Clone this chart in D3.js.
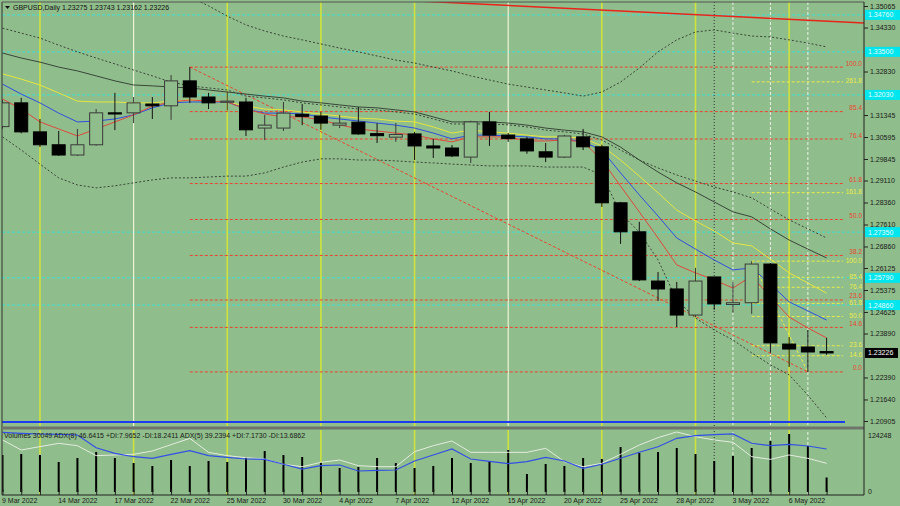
<!DOCTYPE html>
<html><head><meta charset="utf-8">
<script src="https://cdn.jsdelivr.net/npm/d3@7"></script>
<style>body{margin:0;background:#8fbd8b;}svg{display:block;}text{font-family:"Liberation Sans",Arial,sans-serif;}</style>
</head><body>
<svg id="c" width="900" height="506"></svg>
<script>
const symbol = "GBPUSD,Daily";
const dates = ["9 Mar 2022","10 Mar 2022","11 Mar 2022","14 Mar 2022","15 Mar 2022","16 Mar 2022","17 Mar 2022","18 Mar 2022","21 Mar 2022","22 Mar 2022","23 Mar 2022","24 Mar 2022","25 Mar 2022","28 Mar 2022","29 Mar 2022","30 Mar 2022","31 Mar 2022","1 Apr 2022","4 Apr 2022","5 Apr 2022","6 Apr 2022","7 Apr 2022","8 Apr 2022","11 Apr 2022","12 Apr 2022","13 Apr 2022","14 Apr 2022","15 Apr 2022","18 Apr 2022","19 Apr 2022","20 Apr 2022","21 Apr 2022","22 Apr 2022","25 Apr 2022","26 Apr 2022","27 Apr 2022","28 Apr 2022","29 Apr 2022","2 May 2022","3 May 2022","4 May 2022","5 May 2022","6 May 2022","9 May 2022","10 May 2022"];
const open  = [1.3095,1.3176,1.3077,1.3033,1.2998,1.3033,1.3142,1.3142,1.3172,1.3166,1.3251,1.3196,1.3178,1.3179,1.3090,1.3090,1.3137,1.3131,1.3100,1.3110,1.3071,1.3059,1.3070,1.3029,1.3022,1.2991,1.3111,1.3066,1.3053,1.3009,1.2991,1.3060,1.3026,1.2835,1.2736,1.2568,1.2541,1.2452,1.2582,1.2488,1.2494,1.2626,1.2353,1.2343,1.23275];
const high  = [1.3186,1.3193,1.3121,1.3080,1.3087,1.3155,1.3210,1.3196,1.3196,1.3271,1.3298,1.3210,1.3215,1.3193,1.3135,1.3179,1.3172,1.3145,1.3135,1.3162,1.3107,1.3107,1.3077,1.3053,1.3032,1.3115,1.3145,1.3073,1.3060,1.3039,1.3067,1.3087,1.3033,1.2838,1.2770,1.2599,1.2565,1.2613,1.2582,1.2565,1.2636,1.2630,1.2377,1.2401,1.23743];
const low   = [1.3088,1.3072,1.3025,1.2995,1.2995,1.3030,1.3083,1.3107,1.3121,1.3118,1.3176,1.3155,1.3150,1.3063,1.3049,1.3080,1.3100,1.3084,1.3090,1.3067,1.3039,1.3043,1.2981,1.2988,1.2991,1.2971,1.3029,1.3043,1.3002,1.2974,1.2988,1.3015,1.2821,1.2695,1.2568,1.2500,1.2411,1.2445,1.2470,1.2460,1.2456,1.2323,1.2275,1.2258,1.23162];
const close = [1.3176,1.3077,1.3033,1.2998,1.3033,1.3142,1.3138,1.3176,1.3166,1.3251,1.3196,1.3176,1.3182,1.3084,1.3100,1.3141,1.3130,1.3107,1.3107,1.3070,1.3064,1.3068,1.3029,1.3022,1.2995,1.3111,1.3066,1.3054,1.3012,1.2991,1.3063,1.3026,1.2835,1.2736,1.2572,1.2541,1.2452,1.2568,1.2490,1.2494,1.2626,1.2357,1.2336,1.2326,1.23226];
const volume = [76600,78700,76600,62100,70400,82800,70400,60000,53800,66300,53800,64200,62100,72500,84900,76600,72500,62100,49700,51800,70400,60000,49700,53800,70400,60000,64200,87000,37300,58000,53800,70400,68300,93200,80800,82800,91100,78700,64200,74500,91100,105600,120100,95300,30049];
const maFast = [1.3189,1.3155,1.3111,1.3087,1.3063,1.3087,1.3111,1.3135,1.3165,1.3179,1.3186,1.3182,1.3179,1.3155,1.3138,1.3128,1.3128,1.3118,1.3101,1.3087,1.3080,1.3073,1.3066,1.3053,1.3043,1.3060,1.3060,1.3060,1.3046,1.3046,1.3049,1.3043,1.2981,1.2892,1.2804,1.2715,1.2623,1.2596,1.2572,1.2544,1.2585,1.2514,1.2445,1.2408,1.2374];
const maMid = [1.3240,1.3206,1.3176,1.3141,1.3111,1.3114,1.3121,1.3135,1.3159,1.3176,1.3179,1.3179,1.3179,1.3155,1.3141,1.3141,1.3138,1.3128,1.3121,1.3114,1.3107,1.3100,1.3090,1.3073,1.3053,1.3066,1.3066,1.3063,1.3060,1.3053,1.3053,1.3043,1.3015,1.2937,1.2862,1.2790,1.2715,1.2677,1.2640,1.2606,1.2613,1.2558,1.2497,1.2466,1.2435];
const maSlow = [1.3275,1.3257,1.3237,1.3210,1.3182,1.3179,1.3179,1.3176,1.3176,1.3182,1.3186,1.3182,1.3179,1.3165,1.3155,1.3152,1.3145,1.3138,1.3131,1.3124,1.3121,1.3114,1.3111,1.3094,1.3073,1.3083,1.3077,1.3073,1.3066,1.3060,1.3060,1.3056,1.3029,1.2981,1.2926,1.2869,1.2810,1.2773,1.2739,1.2698,1.2688,1.2643,1.2596,1.2561,1.2527];
const maLong = [1.3346,1.3329,1.3315,1.3298,1.3285,1.3268,1.3251,1.3237,1.3234,1.3230,1.3227,1.3220,1.3213,1.3206,1.3199,1.3193,1.3182,1.3176,1.3169,1.3162,1.3159,1.3152,1.3145,1.3128,1.3111,1.3111,1.3111,1.3107,1.3100,1.3090,1.3083,1.3077,1.3060,1.3025,1.2981,1.2940,1.2903,1.2872,1.2838,1.2804,1.2787,1.2746,1.2708,1.2677,1.2647];
const maDotted = [1.3431,1.3414,1.3397,1.3373,1.3350,1.3329,1.3309,1.3288,1.3268,1.3247,1.3234,1.3227,1.3220,1.3199,1.3193,1.3186,1.3176,1.3169,1.3162,1.3155,1.3152,1.3145,1.3138,1.3121,1.3104,1.3104,1.3104,1.3101,1.3094,1.3083,1.3077,1.3070,1.3049,1.3015,1.2981,1.2954,1.2930,1.2909,1.2889,1.2872,1.2852,1.2814,1.2777,1.2746,1.2715];
const bbUpper = [null,null,null,null,null,null,null,null,null,null,1.3537,1.3507,1.3472,1.3442,1.3421,1.3404,1.3391,1.3377,1.3363,1.3350,1.3336,1.3322,1.3312,1.3298,1.3285,1.3268,1.3254,1.3240,1.3230,1.3220,1.3210,1.3199,1.3213,1.3247,1.3295,1.3350,1.3391,1.3418,1.3425,1.3414,1.3404,1.3401,1.3391,1.3380,1.3367];
const bbLower = [1.3060,1.3015,1.2967,1.2920,1.2896,1.2886,1.2893,1.2903,1.2913,1.2920,1.2920,1.2923,1.2926,1.2926,1.2937,1.2957,1.2974,1.2985,1.2985,1.2981,1.2981,1.2978,1.2974,1.2971,1.2967,1.2964,1.2961,1.2961,1.2961,1.2957,1.2957,1.2957,1.2930,1.2800,1.2735,1.2640,1.2503,1.2442,1.2401,1.2367,1.2323,1.2282,1.2248,1.2179,1.2101];
const adx8 = [99.5,97.8,96.7,96.2,95,73.8,64.5,58.8,56.2,62.8,68.8,60.5,57.8,55,54.5,46.2,38.3,43.8,45,35,36.2,36.7,51.7,61.7,71.7,55,51.2,47.2,50.5,57.8,51.7,39.5,46.2,56.2,66.2,75.5,89.5,93.8,95.5,96.7,81.2,77.2,79.5,76.7,71.7];
const adx5 = [86.7,70,75.6,81.1,77.2,60.6,61.7,62.8,68.3,78.9,89.4,66.1,60.6,57.2,55,46.1,42.2,49.4,53.3,43.9,42.2,42.2,67.2,77.2,85,66.1,66.1,66.1,66.1,72.8,50.6,42.2,47.8,62.8,78.3,90.6,100,92.2,86.7,82.8,58.9,54.4,61.7,56.1,47.8];
const priceTicks = [1.35065,1.34330,1.32830,1.31345,1.30595,1.29845,1.29110,1.28360,1.27610,1.26860,1.26125,1.25375,1.24625,1.23890,1.22390,1.21640,1.20905];
const fibRedLevels = [0,14.6,23.6,38.2,50,61.8,76.4,85.4,100];
const fibYellowLevels = [14.6,23.6,50,61.8,76.4,85.4,100,161.8,261.8];
const fibRed = {from:10, to:43, high:1.3298, low:1.2258};
const fibYellow = {from:40, to:43, high:1.2636, low:1.2258};
const cyanLevels = [1.34760,1.33500,1.32030,1.27350,1.25790,1.24860];
const supportLine = 1.2087;
const trendRed = {i0:22, p0:1.3524, i1:44, p1:1.3455};
const fridays = [2,7,12,17,22,27,32,37,42];
const paleFridays = [7,27];
const dottedV = [38];
const whiteDashedV = [39,41,43];
const volTop = 124248;
const legendText = "Volumes 30049  ADX(8) 46.6415 +DI:7.9652 -DI:18.2411   ADX(5) 39.2394 +DI:7.1730 -DI:13.6862";

const svg = d3.select("#c");
const BG = "#8fbd8b";
const L = 2, R = 864, T = 2, MB = 426, VT = 430, VB = 495;
const x = d3.scaleLinear().domain([0,44]).range([2.5,826.6]);
const y = d3.scaleLinear().domain([1.20905,1.35065]).range([421,6]);
const yv = d3.scaleLinear().domain([0,volTop]).range([492,432]);
const ya = d3.scaleLinear().domain([0,100]).range([492,432]);

svg.append("rect").attr("width",900).attr("height",506).attr("fill",BG);
const defs = svg.append("defs");
defs.append("clipPath").attr("id","mainclip").append("rect").attr("x",L).attr("y",T).attr("width",R-L).attr("height",MB-T);
defs.append("clipPath").attr("id","volclip").append("rect").attr("x",L).attr("y",VT).attr("width",R-L).attr("height",VB-VT);
const main = svg.append("g").attr("clip-path","url(#mainclip)");
const vol = svg.append("g").attr("clip-path","url(#volclip)");

cyanLevels.forEach(p=>{
  main.append("line").attr("x1",L).attr("x2",R).attr("y1",y(p)).attr("y2",y(p))
    .attr("stroke","#3fe0d8").attr("stroke-width",1).attr("stroke-dasharray","3,2");
});
fridays.forEach(i=>{
  const pale = paleFridays.includes(i);
  main.append("line").attr("x1",x(i)).attr("x2",x(i)).attr("y1",T).attr("y2",MB)
    .attr("stroke",pale?"#eef3d6":"#cfe23e").attr("stroke-width",pale?1.2:1.6);
  vol.append("line").attr("x1",x(i)).attr("x2",x(i)).attr("y1",VT).attr("y2",VB)
    .attr("stroke","#cfe23e").attr("stroke-width",1.6);
});
dottedV.forEach(i=>{
  [main,vol].forEach(g=>g.append("line").attr("x1",x(i)).attr("x2",x(i)).attr("y1",T).attr("y2",VB)
    .attr("stroke","#333").attr("stroke-width",1).attr("stroke-dasharray","1,2"));
});
whiteDashedV.forEach(i=>{
  [main,vol].forEach(g=>g.append("line").attr("x1",x(i)).attr("x2",x(i)).attr("y1",T).attr("y2",VB)
    .attr("stroke","#eef2ea").attr("stroke-width",1).attr("stroke-dasharray","3,2"));
});

function fib(f, levels, color, dy){
  const xs = x(f.from), xe = 843;
  levels.forEach(l=>{
    const p = f.low + (f.high-f.low)*l/100;
    main.append("line").attr("x1",xs).attr("x2",xe).attr("y1",y(p)).attr("y2",y(p))
      .attr("stroke",color).attr("stroke-width",1).attr("stroke-dasharray","3,2");
    main.append("text").attr("x",862).attr("y",y(p)+dy).attr("text-anchor","end")
      .attr("font-size",6.5).attr("fill",color).text(l.toFixed(1));
  });
  main.append("line").attr("x1",x(f.from)).attr("y1",y(f.high)).attr("x2",x(f.to)).attr("y2",y(f.low))
    .attr("stroke",color).attr("stroke-width",1).attr("stroke-dasharray","3,2");
}
fib(fibRed, fibRedLevels, "#ea4630", -1.5);
fib(fibYellow, fibYellowLevels, "#ecec48", 1.5);

main.append("line").attr("x1",L).attr("x2",845).attr("y1",y(supportLine)).attr("y2",y(supportLine))
  .attr("stroke","#1d3cf0").attr("stroke-width",2);
{
  const slope = (trendRed.p1-trendRed.p0)/(trendRed.i1-trendRed.i0);
  const iEnd = x.invert(R);
  main.append("line").attr("x1",x(trendRed.i0)).attr("y1",y(trendRed.p0))
    .attr("x2",R).attr("y2",y(trendRed.p0+slope*(iEnd-trendRed.i0)))
    .attr("stroke","#e8241c").attr("stroke-width",1.5);
}

const line = d3.line().defined(d=>d!=null).x((d,i)=>x(i)).y(d=>y(d));
const dash = (arr,col)=>main.append("path").attr("d",line(arr)).attr("fill","none").attr("stroke",col).attr("stroke-width",1).attr("stroke-dasharray","2,2");
dash(bbUpper,"#3a463a");
dash(bbLower,"#3a463a");
dash(maDotted,"#3a463a");
main.append("path").attr("d",line(maLong)).attr("fill","none").attr("stroke","#3a463a").attr("stroke-width",1);
main.append("path").attr("d",line(maSlow)).attr("fill","none").attr("stroke","#e6e640").attr("stroke-width",1);
main.append("path").attr("d",line(maMid)).attr("fill","none").attr("stroke","#2f4fe0").attr("stroke-width",1);
main.append("path").attr("d",line(maFast)).attr("fill","none").attr("stroke","#e0483c").attr("stroke-width",1);

const bw = 13;
const cg = main.append("g");
dates.forEach((d,i)=>{
  const up = close[i] >= open[i];
  cg.append("line").attr("x1",x(i)).attr("x2",x(i)).attr("y1",y(high[i])).attr("y2",y(low[i]))
    .attr("stroke",up?"#3a3a3a":"#111").attr("stroke-width",1);
  const top = y(Math.max(open[i],close[i])), bot = y(Math.min(open[i],close[i]));
  cg.append("rect").attr("x",x(i)-bw/2).attr("y",top).attr("width",bw).attr("height",Math.max(1,bot-top))
    .attr("fill",up?BG:"#000").attr("stroke",up?"#3a3a3a":"#000").attr("stroke-width",1);
});

vol.selectAll(".vb").data(volume).enter().append("line")
  .attr("x1",(d,i)=>x(i)).attr("x2",(d,i)=>x(i)).attr("y1",yv(0)).attr("y2",d=>yv(d))
  .attr("stroke","#000").attr("stroke-width",2);
const aline = d3.line().x((d,i)=>x(i)).y(d=>ya(d));
vol.append("path").attr("d",aline(adx5)).attr("fill","none").attr("stroke","#e4ece0").attr("stroke-width",1);
vol.append("path").attr("d",aline(adx8)).attr("fill","none").attr("stroke","#3350e6").attr("stroke-width",1.2);
svg.append("text").attr("x",4).attr("y",438).attr("font-size",7).attr("fill","#1a1a1a").text(legendText);

svg.append("line").attr("x1",L).attr("x2",L).attr("y1",T).attr("y2",VB).attr("stroke","#333").attr("stroke-width",1);
svg.append("line").attr("x1",L).attr("x2",R).attr("y1",T).attr("y2",T).attr("stroke","#555").attr("stroke-width",1);
svg.append("rect").attr("x",L).attr("y",426.5).attr("width",R-L).attr("height",3).attr("fill","#6e766c");

const yAxis = d3.axisRight(y).tickValues(priceTicks).tickFormat(d3.format(".5f")).tickSize(4).tickPadding(2);
const ya1 = svg.append("g").attr("transform",`translate(${R},0)`).call(yAxis);
ya1.select(".domain").remove();
const xAxis = d3.axisBottom(x).tickValues(d3.range(0,45)).tickSize(0).tickFormat(i=> i%3===0?dates[i]:"");
const xa = svg.append("g").attr("transform",`translate(0,${VB})`).call(xAxis);
xa.select(".domain").remove();
xa.selectAll(".tick").append("line").attr("y1",0).attr("y2",-6).attr("stroke","#222");
xa.selectAll("text").attr("text-anchor","start").attr("dx",-1).attr("dy","0.55em").attr("y",4);
[ya1,xa].forEach(g=>{g.selectAll("text").attr("font-size",7).attr("fill","#1a1a1a").attr("font-family","Liberation Sans, Arial");
  g.selectAll(".tick line").attr("stroke","#222");});
svg.append("line").attr("x1",R).attr("x2",R).attr("y1",T).attr("y2",VB).attr("stroke","#222");
svg.append("line").attr("x1",L).attr("x2",R).attr("y1",VB).attr("y2",VB).attr("stroke","#222");
svg.append("text").attr("x",868).attr("y",438).attr("font-size",7).attr("fill","#1a1a1a").text(String(volTop));
svg.append("text").attr("x",868).attr("y",494).attr("font-size",7).attr("fill","#1a1a1a").text("0");

cyanLevels.forEach(p=>{
  svg.append("rect").attr("x",865).attr("y",y(p)-5).attr("width",35).attr("height",10).attr("fill","#00e6ee");
  svg.append("text").attr("x",868).attr("y",y(p)+2.5).attr("font-size",7).attr("fill","#e8fbfb").text(p.toFixed(5));
});
{
  const p = close[44];
  svg.append("rect").attr("x",865).attr("y",y(p)-5).attr("width",33).attr("height",10).attr("fill","#000");
  svg.append("text").attr("x",868).attr("y",y(p)+2.5).attr("font-size",7).attr("fill","#fff").text(p.toFixed(5));
}
svg.append("path").attr("d","M5,6 L10,6 L7.5,9 Z").attr("fill","#111");
svg.append("text").attr("x",13).attr("y",10).attr("font-size",7).attr("fill","#111")
  .text(`${symbol} ${open[44].toFixed(5)} ${high[44].toFixed(5)} ${low[44].toFixed(5)} ${close[44].toFixed(5)}`);
</script>
</body></html>
